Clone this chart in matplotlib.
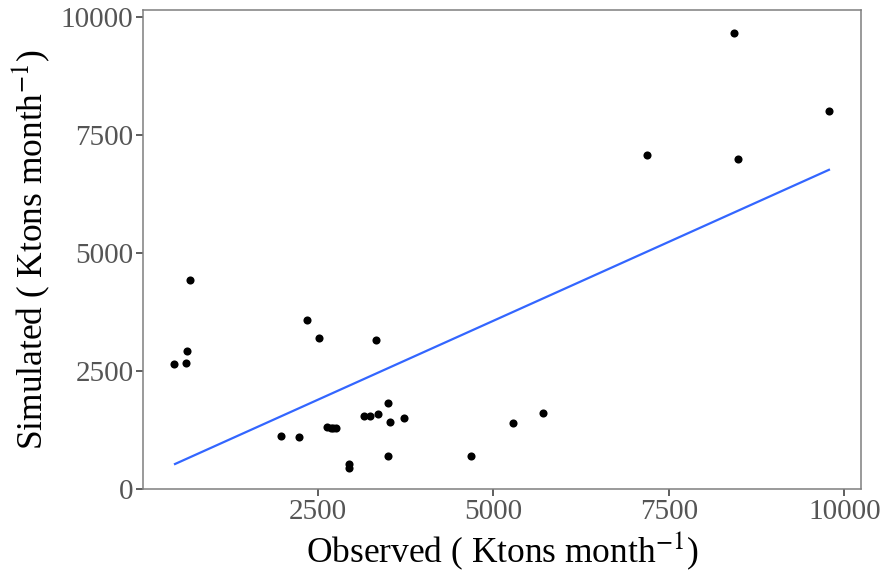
import numpy as np
import matplotlib
matplotlib.use("Agg")
import matplotlib.pyplot as plt

# Observed vs simulated monthly values (Ktons month^-1)
observed = [690, 643, 462, 624, 2357, 2528, 3332, 1987, 2239,
            2634, 2690, 2720, 2766, 2952, 2952, 3156, 3251, 3361,
            3498, 3536, 3726, 3503, 4691, 5285, 5703, 8429, 9779,
            7189, 8486]
simulated = [4424, 2932, 2643, 2679, 3580, 3207, 3150, 1118, 1091,
             1308, 1280, 1300, 1293, 534, 437, 1546, 1546, 1597,
             1829, 1420, 1513, 696, 690, 1386, 1618, 9662, 8017,
             7074, 7004]

# linear fit drawn over the observed range
fit_x = [472, 9779]
fit_y = [527, 6766]

xticks = [2500, 5000, 7500, 10000]
yticks = [0, 2500, 5000, 7500, 10000]

plt.rcParams['font.family'] = ['Liberation Serif', 'DejaVu Serif']
plt.rcParams['mathtext.fontset'] = 'stix'

fig = plt.figure(figsize=(8.8, 5.75), dpi=100)
ax = fig.add_axes([0.1628, 0.149, 0.8152, 0.834])

ax.plot(fit_x, fit_y, color='#3366FF', lw=1.6, zorder=2)
ax.scatter(observed, simulated, s=34, color='black', zorder=3, linewidths=0)

ax.set_xlim(20, 10230)
ax.set_ylim(-10, 10160)
ax.set_xticks(xticks)
ax.set_yticks(yticks)
ax.set_xticklabels([str(v) for v in xticks])
ax.set_yticklabels([str(v) for v in yticks])

for s in ax.spines.values():
    s.set_color('#7f7f7f')
    s.set_linewidth(1.1)

ax.tick_params(axis='both', length=5, width=1.1, color='#333333',
               labelcolor='#555555', labelsize=21, pad=2)

ax.set_xlabel(r'Observed ( Ktons month$^{-1}$)', fontsize=25.5, labelpad=4)
ax.set_ylabel(r'Simulated ( Ktons month$^{-1}$)', fontsize=25.5, labelpad=6)

fig.savefig('out.png', dpi=100)
